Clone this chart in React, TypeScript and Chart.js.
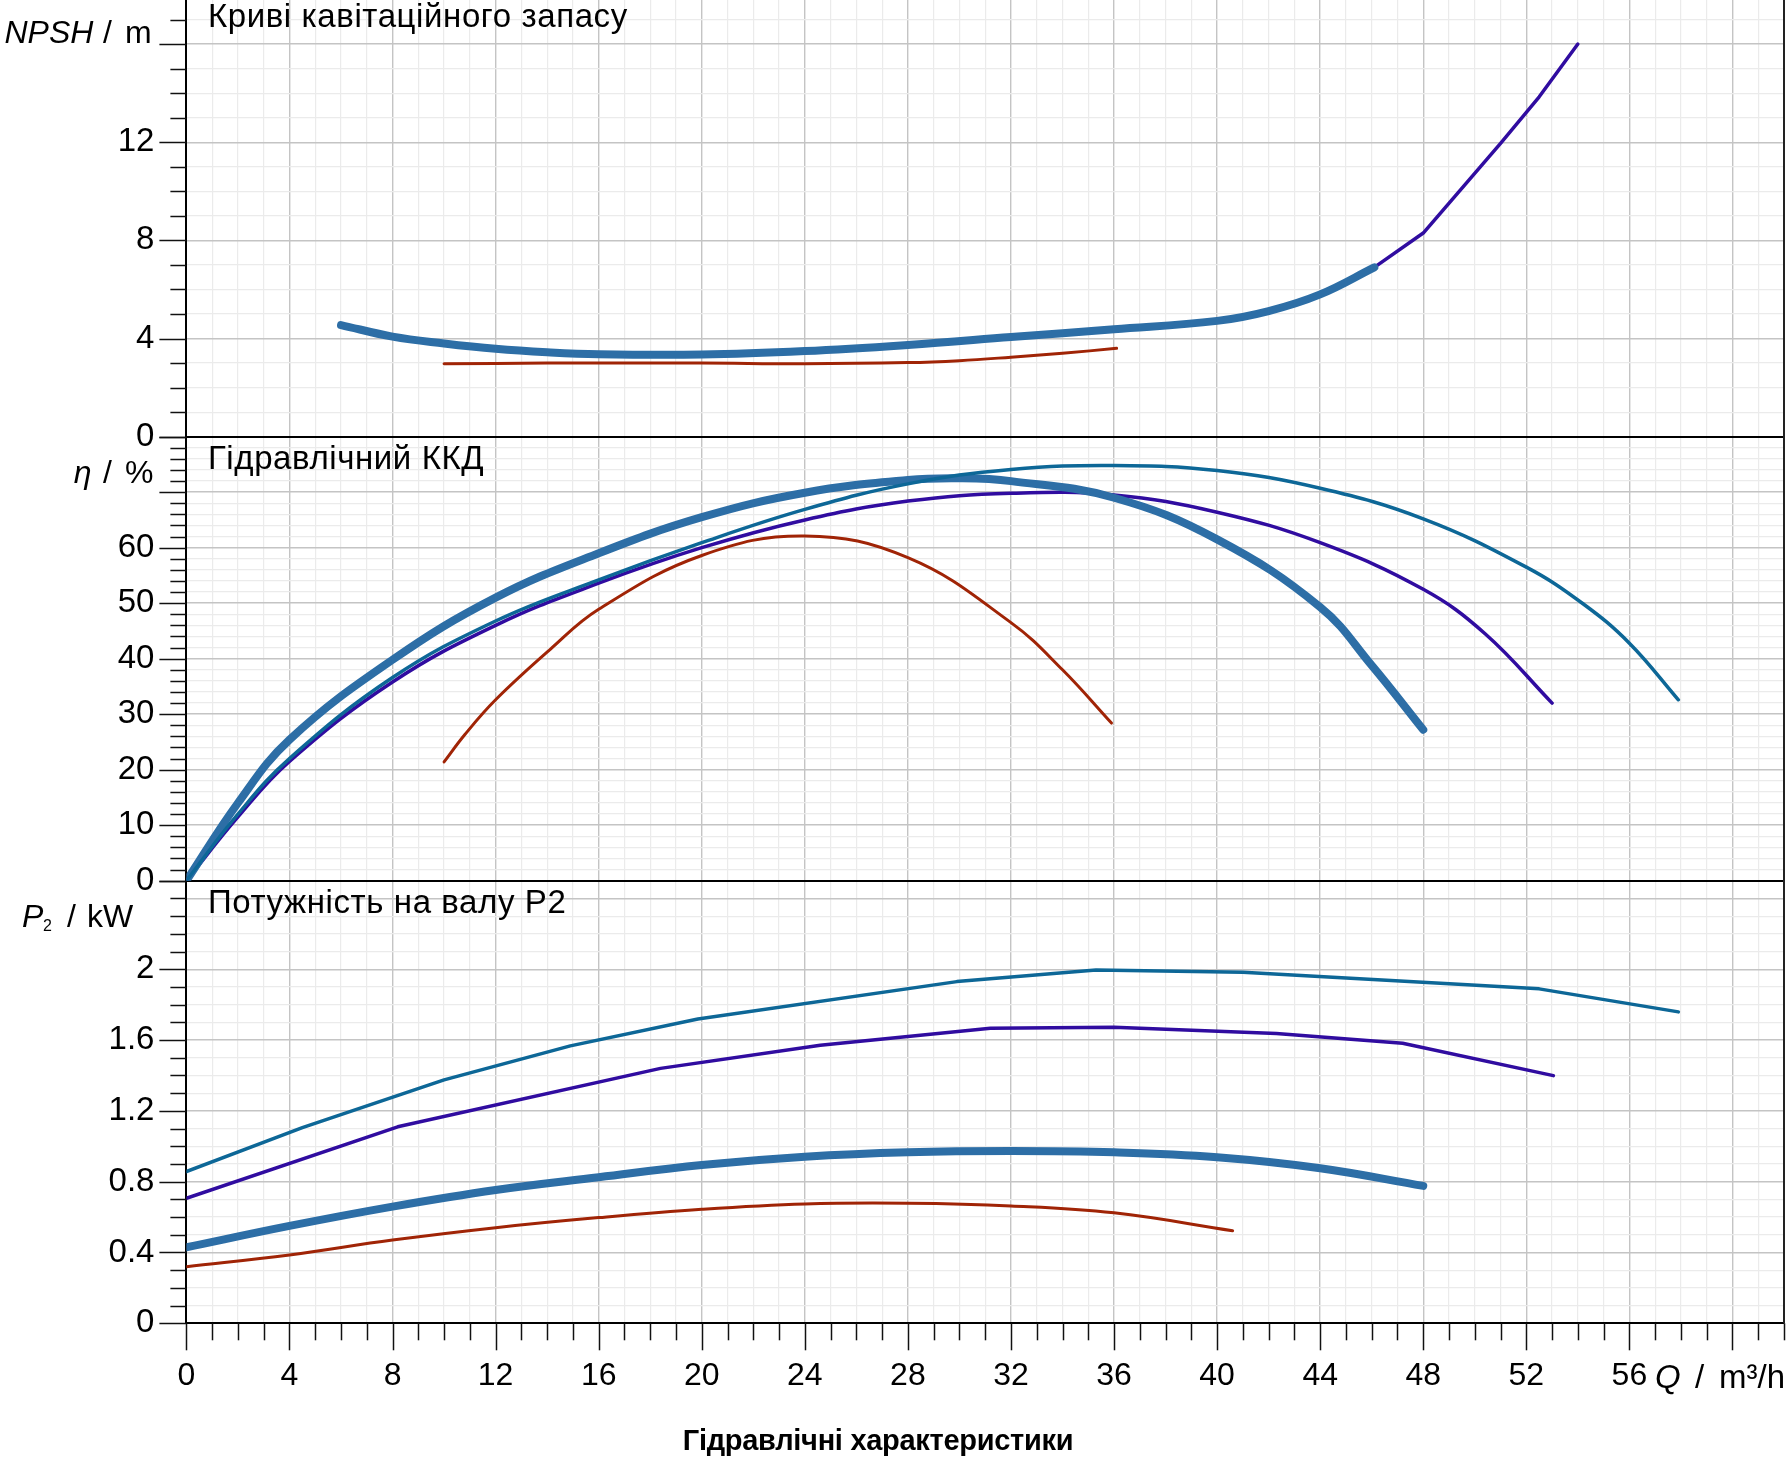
import React, { useEffect, useRef } from 'react';
import { Chart, registerables } from 'chart.js';

Chart.register(...registerables);

const FONT = "'Liberation Sans', Arial, Helvetica, sans-serif";

// ---- Flow axis, Q in m³/h ----
const Q_MAX = 62;
const qTicks = Array.from({ length: Q_MAX + 1 }, (_, i) => i);
const qLabels = [0, 4, 8, 12, 16, 20, 24, 28, 32, 36, 40, 44, 48, 52, 56];

// ---- Panel ranges and ticks ----
const NPSH_MAX = 18;
const npshTicks = Array.from({ length: 19 }, (_, i) => i);
const npshLabels = [0, 4, 8, 12];
const npshMajor = [0, 4, 8, 12, 16];

const ETA_MAX = 80;
const etaTicks = Array.from({ length: 41 }, (_, i) => i * 2);
const etaLabels = [0, 10, 20, 30, 40, 50, 60];
const etaMajor = [0, 10, 20, 30, 40, 50, 60, 70, 80];

const P2_MAX = 2.5;
const p2Ticks = Array.from({ length: 26 }, (_, i) => i / 10);
const p2Labels = [0, 0.4, 0.8, 1.2, 1.6, 2];
const p2MajorGrid = [0, 0.4, 0.8, 1.2, 1.6, 2, 2.4];
const p2LongTicks = [0, 0.4, 0.8, 1.2, 1.6, 2, 2.5];

// ---- Curve colours ----
const C_DUTY = '#2d6ea6';
const C_MAX = '#0d6797';
const C_MID = '#300ca0';
const C_MIN = '#a02406';

// ---- NPSH / m ----
const npshDutyQ = [6, 8, 10, 12, 14, 16, 20, 24, 28, 32, 36, 40, 42, 44, 46.1];
const npshDuty = [4.55, 4.08, 3.8, 3.58, 3.44, 3.36, 3.35, 3.49, 3.74, 4.06, 4.38, 4.72, 5.12, 5.8, 6.9];
const npshMidQ = [6, 8, 10, 12, 14, 16, 20, 24, 28, 32, 36, 40, 42, 44, 46.1, 48, 51, 52.5, 54];
const npshMid = [4.55, 4.08, 3.8, 3.58, 3.44, 3.36, 3.35, 3.49, 3.74, 4.06, 4.38, 4.72, 5.12, 5.8, 6.9, 8.3, 11.95, 13.85, 16.0];
const npshMinQ = [10, 14, 20, 24, 28, 30, 32, 34, 36.1];
const npshMin = [2.97, 3.0, 3.0, 2.97, 3.02, 3.1, 3.24, 3.4, 3.6];

// ---- Hydraulic efficiency η / % ----
const etaDutyQ = [0, 2, 4, 8, 12, 16, 20, 24, 28, 30, 32, 36, 40, 44, 46, 48];
const etaDuty = [0, 14, 25.4, 39.8, 51.0, 59.0, 65.5, 69.9, 72.2, 72.5, 72.0, 69.0, 61.5, 49.3, 38.8, 27.2];
const etaMaxQ = [0, 2, 4, 8, 12, 16, 20, 24, 28, 32, 36, 40, 44, 48, 52, 54.2, 56, 57.9];
const etaMax = [0, 12, 22, 36.6, 46.8, 54.2, 60.9, 66.9, 71.5, 74.1, 74.8, 73.9, 70.7, 65.2, 56.5, 49.9, 42.8, 32.6];
const etaMidQ = [0, 2, 4, 8, 12, 16, 20, 24, 28, 32, 36, 40, 44, 48, 50.4, 53];
const etaMid = [0, 11.5, 21.5, 35.8, 46.0, 53.6, 60.0, 65.0, 68.4, 69.8, 69.5, 66.4, 60.9, 52.5, 44.5, 32.0];
const etaMinQ = [10, 10.8, 12, 14.1, 16, 20, 24, 28, 32, 34, 35.9];
const etaMin = [21.4, 26.3, 32.6, 41.6, 48.9, 58.6, 62.1, 58.2, 46.5, 38.0, 28.4];

// ---- Shaft power P2 / kW ----
const p2DutyQ = [0, 4, 8, 12, 16, 20, 24, 28, 32, 36, 40, 44, 48];
const p2Duty = [0.429, 0.55, 0.659, 0.753, 0.825, 0.894, 0.941, 0.966, 0.973, 0.966, 0.938, 0.876, 0.776];
const p2MaxQ = [0, 4.5, 10, 14.9, 19.85, 29.9, 35.3, 41, 52.5, 57.9];
const p2Max = [0.857, 1.105, 1.375, 1.567, 1.719, 1.93, 1.996, 1.983, 1.889, 1.759];
const p2MidQ = [0, 8.2, 18.4, 24.6, 31.2, 36, 42.3, 47.2, 53.05];
const p2Mid = [0.706, 1.11, 1.44, 1.57, 1.667, 1.672, 1.637, 1.582, 1.399];
const p2MinQ = [0, 4, 8, 12, 16, 20, 24, 28, 32, 36, 40.6];
const p2Min = [0.32, 0.386, 0.47, 0.54, 0.597, 0.644, 0.674, 0.678, 0.663, 0.624, 0.523];

// ---- Layout ----
const CANVAS_W = 1788;
const CANVAS_H = 1463;
const AXIS_W = 186.4;
const X_AXIS_H = 134.7;
const GRID_MAJOR = '#c4c4c4';
const GRID_MINOR = '#ebebeb';

const near = (a: number, b: number) => Math.abs(a - b) < 1e-6;
const inList = (list: number[], v: number) => list.some((m) => near(m, v));

function pts(q: number[], v: number[]) {
  return q.map((x, i) => ({ x, y: v[i] }));
}

function curve(label: string, q: number[], v: number[], yAxisID: string, color: string, width: number, smooth: boolean) {
  return {
    label,
    data: pts(q, v),
    xAxisID: 'x',
    yAxisID,
    borderColor: color,
    backgroundColor: color,
    borderWidth: width,
    pointRadius: 0,
    pointHoverRadius: 0,
    fill: false,
    tension: smooth ? 0.4 : 0,
    borderCapStyle: 'round',
    borderJoinStyle: 'round',
  };
}

function yAxis(
  ticks: number[],
  labels: number[],
  majorGrid: number[],
  boundaries: number[],
  max: number,
  weight: number,
  stackWeight: number,
) {
  return {
    type: 'linear',
    position: 'left',
    stack: 'panels',
    stackWeight,
    weight,
    min: 0,
    max,
    afterBuildTicks: (s: any) => {
      s.ticks = ticks.map((value) => ({ value }));
    },
    afterFit: (s: any) => {
      s.width = AXIS_W;
      s.paddingTop = 0;
      s.paddingBottom = 0;
    },
    border: { display: true, color: '#000', width: 2 },
    grid: {
      color: (c: any) => {
        const v = c.tick ? c.tick.value : 0;
        if (inList(boundaries, v)) return '#000';
        return inList(majorGrid, v) ? GRID_MAJOR : GRID_MINOR;
      },
      lineWidth: (c: any) => {
        const v = c.tick ? c.tick.value : 0;
        if (inList(boundaries, v)) return 2;
        return inList(majorGrid, v) ? 1.4 : 1.2;
      },
      tickLength: 27,
      tickColor: 'rgba(0,0,0,0)',
    },
    ticks: {
      autoSkip: false,
      padding: 5,
      color: '#000',
      font: { family: FONT, size: 33 },
      callback: (v: number) => (inList(labels, v) ? String(Number(v.toFixed(1))) : ''),
    },
  };
}

function drawPieces(ctx: CanvasRenderingContext2D, pieces: [string, string, number, number][]) {
  for (const [text, font, x, y] of pieces) {
    ctx.font = font;
    ctx.fillText(text, x, y);
  }
}

const decorPlugin = {
  id: 'panelDecor',
  afterDraw(chart: any) {
    const { ctx, chartArea: a, scales } = chart;
    const sx = scales.x;
    const yN = scales.yNpsh;
    const yE = scales.yEta;
    const yP = scales.yP2;
    ctx.save();

    // outer tick marks of the three value axes
    ctx.strokeStyle = '#111';
    ctx.lineWidth = 1.5;
    const leftTicks = (s: any, ticks: number[], long: number[]) => {
      for (const v of ticks) {
        const y = Math.round(s.getPixelForValue(v)) + 0.5;
        if (y < 1) continue;
        const len = inList(long, v) ? 27 : 16;
        ctx.beginPath();
        ctx.moveTo(a.left - len, y);
        ctx.lineTo(a.left, y);
        ctx.stroke();
      }
    };
    leftTicks(yN, npshTicks, npshMajor);
    leftTicks(yE, etaTicks, etaMajor);
    leftTicks(yP, p2Ticks, p2LongTicks);

    // tick marks below the flow axis
    for (const q of qTicks) {
      const x = Math.round(sx.getPixelForValue(q)) + 0.5;
      const len = q % 4 === 0 ? 27 : 17;
      ctx.beginPath();
      ctx.moveTo(x, a.bottom);
      ctx.lineTo(x, a.bottom + len);
      ctx.stroke();
    }

    // right frame
    ctx.strokeStyle = '#222';
    ctx.lineWidth = 2;
    ctx.beginPath();
    ctx.moveTo(a.right, a.top);
    ctx.lineTo(a.right, a.bottom);
    ctx.stroke();

    ctx.fillStyle = '#000';
    ctx.textAlign = 'left';
    ctx.textBaseline = 'alphabetic';

    // panel headings
    ctx.font = `33px ${FONT}`;
    (ctx as any).letterSpacing = '0.6px';
    ctx.fillText('Криві кавітаційного запасу', a.left + 21.5, yN.top + 32);
    ctx.fillText('Гідравлічний ККД', a.left + 21.5, yE.top + 32);
    ctx.fillText('Потужність на валу P2', a.left + 21.5, yP.top + 32);
    (ctx as any).letterSpacing = '0px';

    // quantity / unit labels of the value axes
    const reg = `32px ${FONT}`;
    const ita = `italic 32px ${FONT}`;
    const bN = yN.top + 47.5;
    drawPieces(ctx, [
      ['NPSH', ita, 4.5, bN],
      ['/', reg, 103, bN],
      ['m', reg, 125, bN],
    ]);
    const bE = yE.top + 46.3;
    drawPieces(ctx, [
      ['η', ita, 73.7, bE],
      ['/', reg, 103, bE],
      ['%', reg, 125, bE],
    ]);
    const bP = yP.top + 46;
    drawPieces(ctx, [
      ['P', ita, 22, bP],
      ['2', `16px ${FONT}`, 43, bP + 4],
      ['/', reg, 67, bP],
      ['kW', reg, 87, bP],
    ]);

    // flow axis quantity / unit
    const bQ = a.bottom + 65;
    drawPieces(ctx, [
      ['Q', `italic 33px ${FONT}`, 1655, bQ],
      ['/', `33px ${FONT}`, 1695, bQ],
      ['m³/h', `33px ${FONT}`, 1719, bQ],
    ]);

    // caption
    ctx.textAlign = 'center';
    ctx.font = `bold 29px ${FONT}`;
    (ctx as any).letterSpacing = '-0.3px';
    ctx.fillText('Гідравлічні характеристики', 878, 1455);
    (ctx as any).letterSpacing = '0px';

    ctx.restore();
  },
};

export default function App() {
  const ref = useRef<HTMLCanvasElement>(null);

  useEffect(() => {
    if (!ref.current) return;
    Chart.defaults.font.family = FONT;
    const chart = new Chart(ref.current, {
      type: 'line',
      data: {
        datasets: [
          // efficiency
          curve('η max', etaMaxQ, etaMax, 'yEta', C_MAX, 3.5, true),
          curve('η duty', etaDutyQ, etaDuty, 'yEta', C_DUTY, 8, true),
          curve('η mid', etaMidQ, etaMid, 'yEta', C_MID, 3.5, true),
          curve('η min', etaMinQ, etaMin, 'yEta', C_MIN, 3, true),
          // NPSH
          curve('NPSH duty', npshDutyQ, npshDuty, 'yNpsh', C_DUTY, 8, true),
          curve('NPSH mid', npshMidQ, npshMid, 'yNpsh', C_MID, 3.5, false),
          curve('NPSH min', npshMinQ, npshMin, 'yNpsh', C_MIN, 3, true),
          // shaft power
          curve('P2 max', p2MaxQ, p2Max, 'yP2', C_MAX, 3.5, false),
          curve('P2 mid', p2MidQ, p2Mid, 'yP2', C_MID, 3.5, false),
          curve('P2 duty', p2DutyQ, p2Duty, 'yP2', C_DUTY, 8, true),
          curve('P2 min', p2MinQ, p2Min, 'yP2', C_MIN, 3, true),
        ],
      },
      options: {
        responsive: false,
        animation: false,
        devicePixelRatio: 1,
        events: [],
        layout: { padding: { left: 0, right: CANVAS_W - 1784, top: 0, bottom: 0 } },
        plugins: {
          legend: { display: false },
          tooltip: { enabled: false },
          title: { display: false },
        },
        scales: {
          x: {
            type: 'linear',
            position: 'bottom',
            min: 0,
            max: Q_MAX,
            afterBuildTicks: (s: any) => {
              s.ticks = qTicks.map((value) => ({ value }));
            },
            afterFit: (s: any) => {
              s.height = X_AXIS_H;
              s.paddingLeft = 0;
              s.paddingRight = 0;
            },
            border: { display: true, color: '#000', width: 2 },
            grid: {
              color: (c: any) => {
                const v = c.tick ? c.tick.value : 0;
                if (v === 0) return 'rgba(0,0,0,0)';
                if (v === Q_MAX) return '#222';
                return v % 4 === 0 ? GRID_MAJOR : GRID_MINOR;
              },
              lineWidth: (c: any) => {
                const v = c.tick ? c.tick.value : 0;
                return v % 4 === 0 ? 1.4 : 1.2;
              },
              tickLength: 27,
              tickColor: 'rgba(0,0,0,0)',
            },
            ticks: {
              autoSkip: false,
              maxRotation: 0,
              padding: 7,
              color: '#000',
              font: { family: FONT, size: 32 },
              callback: (v: number) => (qLabels.includes(v) ? String(v) : ''),
            },
          },
          yP2: yAxis(p2Ticks, p2Labels, p2MajorGrid, [0, P2_MAX], P2_MAX, 1, 442.6),
          yEta: yAxis(etaTicks, etaLabels, etaMajor, [0, ETA_MAX], ETA_MAX, 2, 444),
          yNpsh: yAxis(npshTicks, npshLabels, npshMajor, [0], NPSH_MAX, 3, 441.7),
        },
      } as any,
      plugins: [decorPlugin],
    } as any);
    return () => chart.destroy();
  }, []);

  return (
    <div style={{ position: 'absolute', left: 0, top: -5, width: CANVAS_W, height: CANVAS_H, background: '#fff' }}>
      <canvas ref={ref} width={CANVAS_W} height={CANVAS_H} style={{ display: 'block' }} />
    </div>
  );
}
